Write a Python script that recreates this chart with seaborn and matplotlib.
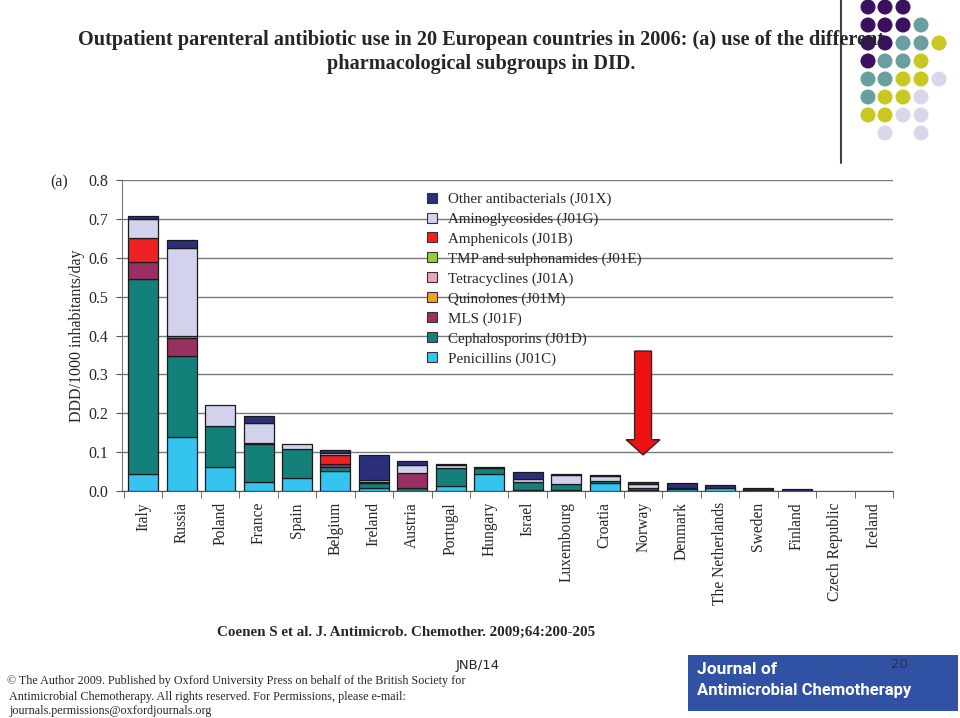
import numpy as np
import pandas as pd
import matplotlib
matplotlib.use("Agg")
import matplotlib.pyplot as plt
import seaborn as sns
from matplotlib.patches import Patch, Polygon, Circle, Rectangle

countries = ["Italy", "Russia", "Poland", "France", "Spain", "Belgium", "Ireland",
             "Austria", "Portugal", "Hungary", "Israel", "Luxembourg", "Croatia",
             "Norway", "Denmark", "The Netherlands", "Sweden", "Finland",
             "Czech Republic", "Iceland"]

penicillins     = [0.045, 0.140, 0.061, 0.024, 0.034, 0.051, 0.009, 0.000, 0.014, 0.044,
                   0.003, 0.003, 0.021, 0.003, 0.004, 0.007, 0.000, 0.000, 0.0, 0.0]
cephalosporins  = [0.500, 0.207, 0.105, 0.098, 0.073, 0.011, 0.011, 0.009, 0.045, 0.016,
                   0.019, 0.015, 0.006, 0.006, 0.005, 0.000, 0.002, 0.000, 0.0, 0.0]
mls             = [0.043, 0.047, 0.000, 0.002, 0.000, 0.007, 0.002, 0.038, 0.000, 0.000,
                   0.000, 0.000, 0.000, 0.000, 0.000, 0.000, 0.000, 0.000, 0.0, 0.0]
quinolones      = [0.000, 0.004, 0.000, 0.000, 0.000, 0.000, 0.000, 0.000, 0.000, 0.000,
                   0.000, 0.000, 0.000, 0.000, 0.000, 0.000, 0.000, 0.000, 0.0, 0.0]
tetracyclines   = [0.0] * 20
tmp_sulpha      = [0.0] * 20
amphenicols     = [0.063, 0.002, 0.000, 0.000, 0.000, 0.023, 0.000, 0.000, 0.000, 0.000,
                   0.000, 0.000, 0.000, 0.000, 0.000, 0.000, 0.000, 0.000, 0.0, 0.0]
aminoglycosides = [0.049, 0.224, 0.054, 0.050, 0.014, 0.006, 0.006, 0.021, 0.009, 0.000,
                   0.010, 0.023, 0.011, 0.009, 0.000, 0.000, 0.000, 0.000, 0.0, 0.0]
other           = [0.007, 0.022, 0.000, 0.020, 0.000, 0.007, 0.065, 0.008, 0.001, 0.002,
                   0.016, 0.002, 0.003, 0.004, 0.011, 0.008, 0.006, 0.004, 0.0, 0.0]

# bottom-to-top stacking order
series = [
    ("Penicillins (J01C)", penicillins, "#35C3F0"),
    ("Cephalosporins (J01D)", cephalosporins, "#13807A"),
    ("MLS (J01F)", mls, "#993062"),
    ("Quinolones (J01M)", quinolones, "#F0A024"),
    ("Tetracyclines (J01A)", tetracyclines, "#F2A2BC"),
    ("TMP and sulphonamides (J01E)", tmp_sulpha, "#9BCB3C"),
    ("Amphenicols (J01B)", amphenicols, "#EE2222"),
    ("Aminoglycosides (J01G)", aminoglycosides, "#D2D2EC"),
    ("Other antibacterials (J01X)", other, "#2B2F7A"),
]

sns.set_style("white")
plt.rcParams["font.family"] = ["Liberation Serif", "DejaVu Serif"]

fig = plt.figure(figsize=(9.6, 7.18), dpi=100)

# decorative overlay in pixel coords
deco = fig.add_axes([0, 0, 1, 1], zorder=-1)
deco.set_xlim(0, 960)
deco.set_ylim(718, 0)
deco.axis("off")
purple, teal, yellow, lav = "#3B1060", "#6A9FA0", "#C8C820", "#D8D8EA"
cols_x = [868, 885, 903, 921, 939]
rows_y = [7, 25, 43, 61, 79, 97, 115, 133]
dots = [
    [purple, purple, purple, None, None],
    [purple, purple, purple, teal, None],
    [purple, purple, teal, teal, yellow],
    [purple, teal, teal, yellow, None],
    [teal, teal, yellow, yellow, lav],
    [teal, yellow, yellow, lav, None],
    [yellow, yellow, lav, lav, None],
    [None, lav, None, lav, None],
]
for r, row in enumerate(dots):
    for c, col in enumerate(row):
        if col:
            deco.add_patch(Circle((cols_x[c], rows_y[r]), 7.5, color=col, lw=0))
deco.plot([841, 841], [0, 163], color="#404040", lw=1.5)
deco.add_patch(Rectangle((688, 655), 270, 56, color="#3152A4", lw=0))
deco.text(697, 669, "Journal of", color="white", fontsize=12.5, fontweight="bold",
          family="Roboto", va="center", ha="left")
deco.text(697, 690, "Antimicrobial Chemotherapy", color="white", fontsize=12,
          fontweight="bold", family="Roboto", va="center", ha="left")
deco.text(908, 665, "20", color="#333333", fontsize=9.5, family="DejaVu Sans",
          va="center", ha="right")

ax = fig.add_axes([122 / 960, 1 - 491 / 718, 771 / 960, 311 / 718])

bottom = np.zeros(len(countries))
for name, vals, color in series:
    v = np.array(vals, dtype=float)
    df = pd.DataFrame({"country": countries, "value": v})
    sns.barplot(data=df, x="country", y="value", order=countries, bottom=bottom,
                color=color, saturation=1, edgecolor="#1a1a1a", linewidth=0.9,
                width=0.78, ax=ax, zorder=3)
    bottom = bottom + v

for p in ax.patches:
    if p.get_height() <= 0:
        p.set_visible(False)

ax.set_xlim(-0.55, 19.5)
ax.set_ylim(0, 0.8)
ax.set_yticks(np.arange(0, 0.81, 0.1))
ax.set_yticklabels([f"{t:.1f}" for t in np.arange(0, 0.81, 0.1)], fontsize=11.5)
ax.yaxis.grid(True, color="#7a7a7a", lw=1, zorder=0)
ax.set_axisbelow(True)
for s in ["top", "right"]:
    ax.spines[s].set_visible(False)
ax.spines["left"].set_color("#7a7a7a")
ax.spines["bottom"].set_color("#555555")
ax.tick_params(axis="y", length=4, color="#555555", pad=6, left=True)
ax.set_xticks(range(len(countries)))
ax.set_xticklabels(countries, rotation=90, fontsize=11.2)
ax.tick_params(axis="x", length=0, pad=8)
ax.set_xticks(np.arange(-0.5, 20, 1.0), minor=True)
ax.tick_params(axis="x", which="minor", length=5, color="#555555", bottom=True)
ax.set_xlabel("")
ax.set_ylabel("DDD/1000 inhabitants/day", fontsize=11.5, labelpad=2)

handles = [Patch(facecolor=c, edgecolor="#333333", lw=0.8, label=n)
           for n, _, c in series[::-1]]
ax.legend(handles=handles, loc="upper left", bbox_to_anchor=(0.378, 1.003),
          frameon=False, fontsize=10.8, handlelength=0.65, handleheight=0.65,
          labelspacing=0.43, handletextpad=0.75)

# red arrow pointing at Norway
ni = countries.index("Norway")
arrow = Polygon([(ni - 0.22, 0.36), (ni + 0.22, 0.36), (ni + 0.22, 0.132),
                 (ni + 0.44, 0.132), (ni, 0.093), (ni - 0.44, 0.132),
                 (ni - 0.22, 0.132)], closed=True, facecolor="#EE1111",
                edgecolor="#3a2020", lw=1, zorder=5, clip_on=False)
ax.add_patch(arrow)

fig.text(50 / 960, 1 - 182 / 718, "(a)", fontsize=11.5, ha="left", va="center")
fig.text(481 / 960, 1 - 40 / 718,
         "Outpatient parenteral antibiotic use in 20 European countries in 2006: (a) use of the different",
         fontsize=14.6, fontweight="bold", ha="center", va="center")
fig.text(481 / 960, 1 - 64 / 718, "pharmacological subgroups in DID.",
         fontsize=14.6, fontweight="bold", ha="center", va="center")
fig.text(406 / 960, 1 - 632 / 718,
         "Coenen S et al. J. Antimicrob. Chemother. 2009;64:200-205",
         fontsize=10.8, fontweight="bold", ha="center", va="center")
fig.text(478 / 960, 1 - 666 / 718, "JNB/14", fontsize=9.5, family="DejaVu Sans",
         ha="center", va="center")
fig.text(7 / 960, 1 - 681 / 718,
         "\u00a9 The Author 2009. Published by Oxford University Press on behalf of the British Society for",
         fontsize=8.7, ha="left", va="center")
fig.text(9 / 960, 1 - 697 / 718,
         "Antimicrobial Chemotherapy. All rights reserved. For Permissions, please e-mail:",
         fontsize=8.7, ha="left", va="center")
fig.text(9 / 960, 1 - 711 / 718, "journals.permissions@oxfordjournals.org",
         fontsize=8.7, ha="left", va="center")

fig.savefig("out.png", dpi=100)
